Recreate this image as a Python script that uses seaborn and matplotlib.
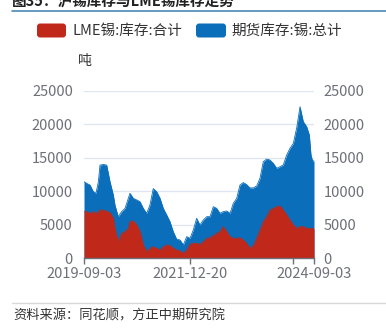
import matplotlib
matplotlib.use("Agg")
import matplotlib.pyplot as plt
import matplotlib.dates as mdates
from matplotlib.patches import FancyBboxPatch
from matplotlib.lines import Line2D
import seaborn as sns
import pandas as pd

# ---------------- data ----------------
dates = ["2019-09-03", "2019-09-24", "2019-10-21", "2019-11-16", "2019-12-07", "2019-12-26",
         "2020-01-08", "2020-02-03", "2020-03-01", "2020-03-28", "2020-04-23", "2020-05-06",
         "2020-06-01", "2020-06-28", "2020-07-25", "2020-08-20", "2020-09-02", "2020-09-29",
         "2020-10-26", "2020-11-21", "2020-12-17", "2021-01-13", "2021-02-08", "2021-03-06",
         "2021-04-02", "2021-04-29", "2021-05-25", "2021-06-21", "2021-07-17", "2021-08-12",
         "2021-09-08", "2021-10-05", "2021-10-31", "2021-11-27", "2021-12-23", "2022-01-18",
         "2022-02-14", "2022-03-12", "2022-04-08", "2022-05-05", "2022-05-31", "2022-06-26",
         "2022-07-23", "2022-08-18", "2022-09-13", "2022-10-10", "2022-11-06", "2022-12-02",
         "2022-12-29", "2023-01-24", "2023-02-19", "2023-03-18", "2023-04-13", "2023-05-10",
         "2023-06-06", "2023-07-02", "2023-07-28", "2023-08-24", "2023-09-19", "2023-10-16",
         "2023-11-12", "2023-12-08", "2024-01-03", "2024-01-30", "2024-02-25", "2024-03-23",
         "2024-04-19", "2024-05-15", "2024-06-10", "2024-07-07", "2024-07-28", "2024-08-10",
         "2024-08-24", "2024-09-03"]

shfe_total = [11430, 11180, 10930, 9940, 9700, 11400,
              13900, 14000, 13900, 11400, 9440, 7950,
              6200, 6960, 7450, 8950, 9700, 8950,
              8700, 8450, 7450, 6710, 7950, 10400,
              9940, 8950, 7450, 6460, 5470, 3980,
              2850, 2730, 1990, 3230, 2980, 4220,
              5960, 4970, 5720, 6210, 6210, 7700,
              7450, 6710, 6960, 7060, 6710, 8200,
              8950, 10930, 11300, 11000, 10500, 10500,
              10800, 11930, 14410, 14810, 14660, 14160,
              13420, 13670, 13920, 15410, 16400, 17150,
              19500, 22610, 20380, 19630, 18390, 15410,
              14410, 14600]

lme_total = [6960, 6960, 6700, 6960, 6700, 6960,
             7200, 7200, 7000, 6800, 5960, 4470,
             2490, 3730, 3980, 4470, 5470, 5570,
             4970, 3980, 1990, 990, 1490, 1740,
             1490, 1240, 1740, 1990, 1890, 1500,
             1240, 1100, 750, 1240, 2090, 2240,
             2240, 2090, 2490, 2980, 3080, 3380,
             3730, 3980, 4720, 3980, 3230, 2980,
             2980, 3080, 2730, 2240, 1500, 1900,
             3000, 4200, 5470, 6210, 7200, 7450,
             7700, 7800, 7200, 6460, 5720, 4970,
             4470, 4720, 4720, 4470, 4470, 4470,
             4470, 4400]

series_names = ["LME锡:库存:合计", "期货库存:锡:总计"]
x_tick_labels = ["2019-09-03", "2021-12-20", "2024-09-03"]
y_ticks = [0, 5000, 10000, 15000, 20000, 25000]
title_text = "图35：沪锡库存与LME锡库存走势"
unit_text = "吨"
source_text = "资料来源：同花顺，方正中期研究院"

# ---------------- style ----------------
sns.set_style("white")
plt.rcParams["font.family"] = ["Noto Sans CJK SC", "DejaVu Sans"]
plt.rcParams["axes.unicode_minus"] = False

RED = "#C0281A"
BLUE = "#0A6EBB"
GRAY = "#6E7079"
GRID = "#E0E6F1"

df = pd.DataFrame({
    "date": pd.to_datetime(dates),
    "shfe": shfe_total,
    "lme": lme_total,
})

W, H = 386, 330
fig = plt.figure(figsize=(W / 100, H / 100), dpi=100)
ax = fig.add_axes([84 / W, 1 - 258.3 / H, 230 / W, (258.3 - 90.7) / H])

# blue area (behind), red area (front)
ax.fill_between(df["date"], 0, df["shfe"], color=BLUE, linewidth=0, zorder=2)
sns.lineplot(data=df, x="date", y="shfe", ax=ax, color=BLUE, linewidth=0.6, zorder=2)
ax.fill_between(df["date"], 0, df["lme"], color=RED, linewidth=0, zorder=3)
sns.lineplot(data=df, x="date", y="lme", ax=ax, color=RED, linewidth=0.6, zorder=3)

ax.set_xlim(pd.Timestamp(x_tick_labels[0]), pd.Timestamp(x_tick_labels[-1]))
ax.set_ylim(y_ticks[0], y_ticks[-1])
ax.set_yticks(y_ticks)
ax.set_yticklabels([str(v) for v in y_ticks])
ax.set_xlabel("")
ax.set_ylabel("")

ax.set_xticks(pd.to_datetime(x_tick_labels))
ax.set_xticklabels(x_tick_labels)
ax.set_xticks([pd.Timestamp("2024-03-20")], minor=True)

for s in ["top", "right", "left"]:
    ax.spines[s].set_visible(False)
ax.spines["bottom"].set_color(GRAY)
ax.spines["bottom"].set_linewidth(1.0)
ax.spines["bottom"].set_zorder(5)

ax.grid(axis="y", color=GRID, linewidth=1.0, zorder=0)
ax.grid(axis="x", visible=False)
ax.set_axisbelow(True)

ax.tick_params(axis="x", which="both", direction="out", length=4, width=1,
               color=GRAY, labelcolor=GRAY, labelsize=10.5, pad=2.5, bottom=True)
ax.tick_params(axis="y", length=0, labelcolor=GRAY, labelsize=10.5, pad=8)

ax2 = ax.twinx()
ax2.set_ylim(y_ticks[0], y_ticks[-1])
ax2.set_yticks(y_ticks)
ax2.set_yticklabels([str(v) for v in y_ticks])
for s in ax2.spines.values():
    s.set_visible(False)
ax2.tick_params(axis="y", length=0, labelcolor=GRAY, labelsize=10.5, pad=7)
ax2.grid(False)

# ---------------- legend (manual) ----------------
def legend_item(x0, x1, color, label, tx):
    p = FancyBboxPatch((x0 / W, 1 - 37.5 / H), (x1 - x0) / W, 14 / H,
                       boxstyle="round,pad=0,rounding_size=0.008",
                       transform=fig.transFigure, facecolor=color,
                       edgecolor="none", mutation_aspect=W / H)
    fig.patches.append(p)
    fig.text(tx / W, 1 - 30.8 / H, label, fontsize=10.5, color="#333333",
             ha="left", va="center")

legend_item(37, 66, RED, series_names[0], 73)
legend_item(196, 226, BLUE, series_names[1], 231)

# unit
fig.text(84.5 / W, 1 - 61.5 / H, unit_text, fontsize=10, color="#333333",
         ha="center", va="center")

# title (cut off at top as in the reference) and rule
fig.text(12 / W, 1 - 6.5 / H, title_text, fontsize=10.5, fontweight="bold",
         color="#222222", ha="left", va="baseline")
fig.add_artist(Line2D([12 / W, 1], [1 - 10.5 / H, 1 - 10.5 / H],
                      transform=fig.transFigure, color="#4A8AB5", linewidth=1.2))

# bottom rule and source
fig.add_artist(Line2D([12 / W, 1], [1 - 302.5 / H, 1 - 302.5 / H],
                      transform=fig.transFigure, color="#D9D9D9", linewidth=1.0))
fig.text(13 / W, 1 - 315.5 / H, source_text, fontsize=9.5, style="italic",
         color="#333333", ha="left", va="center")

fig.savefig("out.png", dpi=100)
